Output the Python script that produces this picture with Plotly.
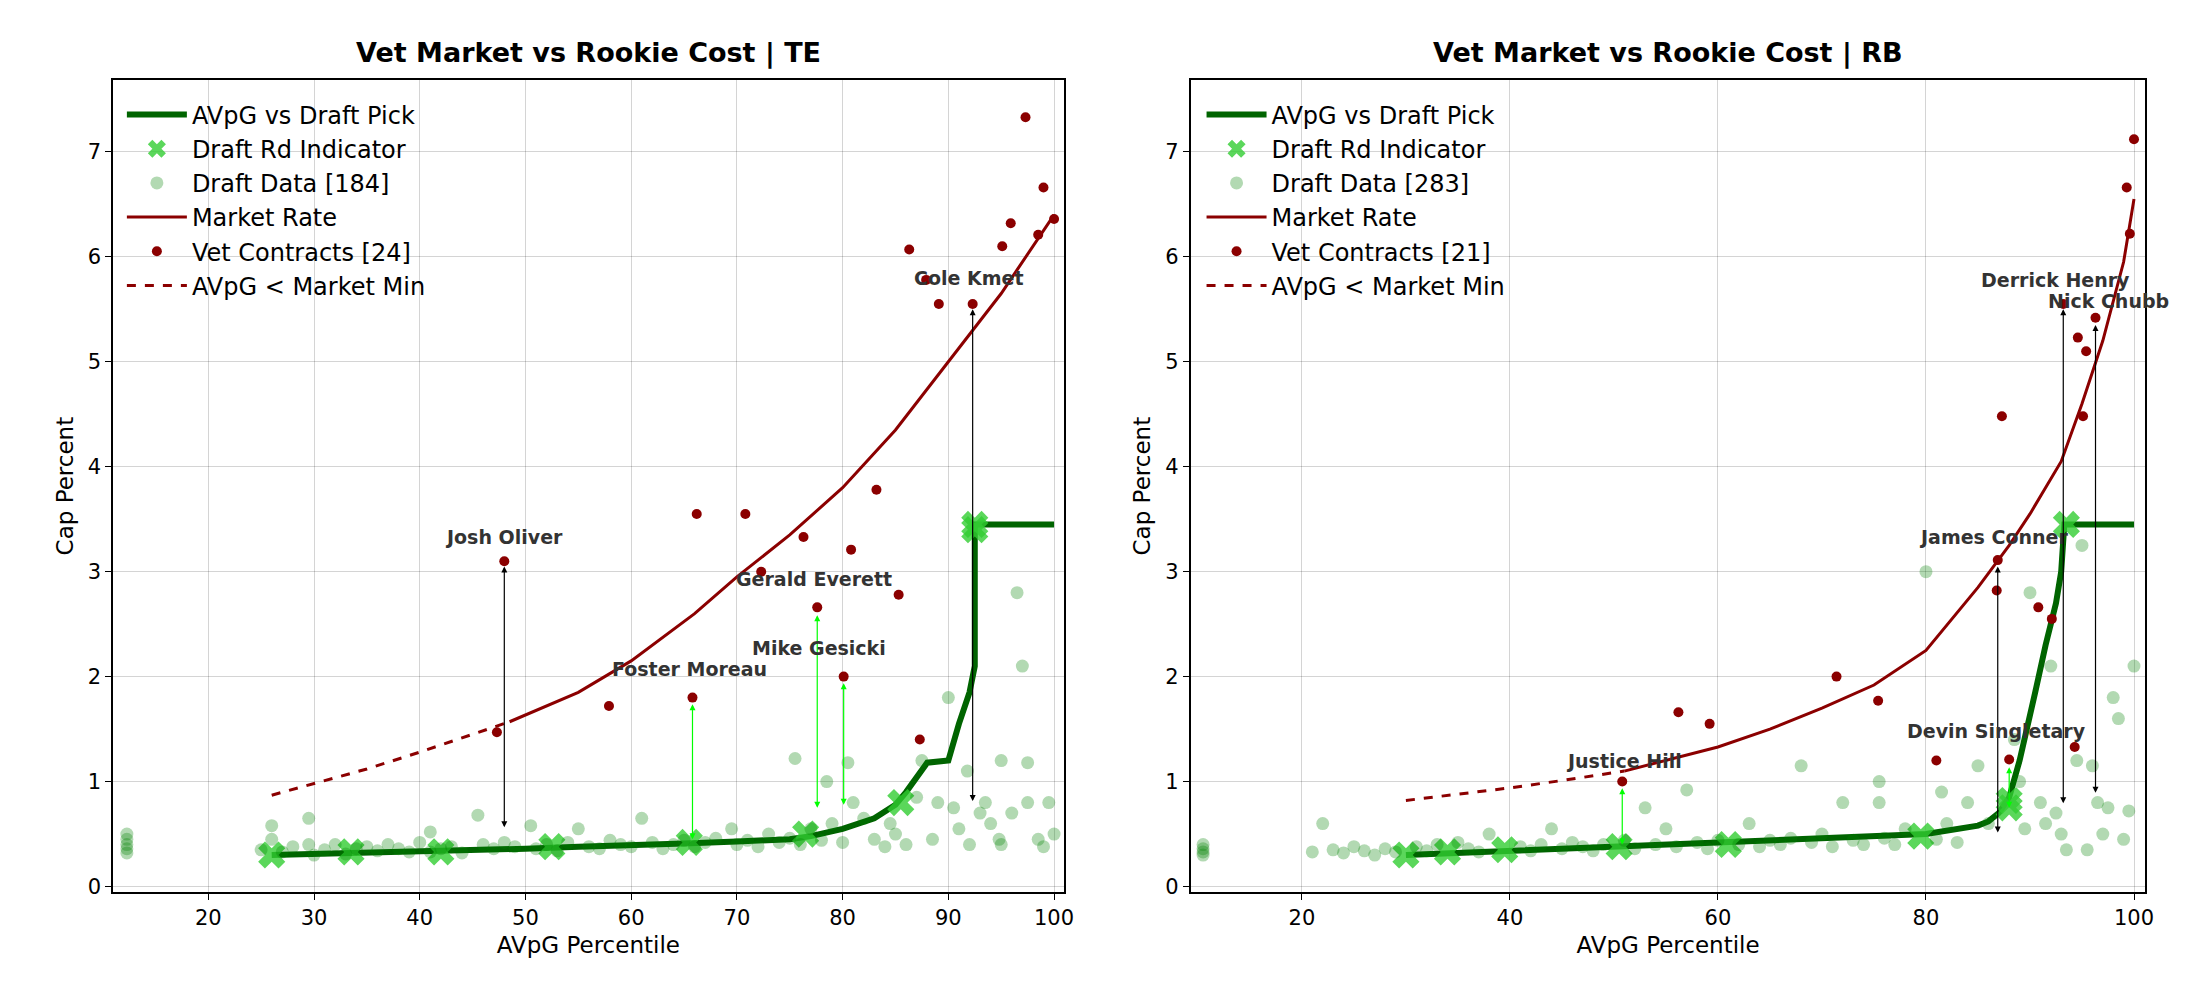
import plotly.graph_objects as go

# ---------------- TE data ----------------
te_curve_x = [26, 30, 35, 40, 45, 50, 55, 60, 65, 70, 75, 77, 80, 83, 85, 86, 87, 88, 90, 90.5, 91, 92, 92.5, 92.5, 95, 100]
te_curve_y = [0.30, 0.31, 0.32, 0.33, 0.34, 0.36, 0.38, 0.39, 0.41, 0.43, 0.45, 0.48, 0.55, 0.65, 0.78, 0.90, 1.05, 1.18, 1.20, 1.40, 1.55, 1.85, 2.10, 3.45, 3.45, 3.45]
te_rd_x = [26, 33.5, 42, 52.5, 65.5, 76.5, 85.5, 92.5, 92.5]
te_rd_y = [0.30, 0.33, 0.33, 0.38, 0.42, 0.50, 0.80, 3.40, 3.45]
te_draft_x = [12.3, 12.3, 12.3, 12.3, 12.3, 25, 26, 27, 28, 29.5, 30, 31, 32, 33, 34, 35, 36, 37, 38, 39, 40, 41, 42, 43, 44, 45.5, 46, 47, 48, 49, 50.5, 51, 52, 53, 54, 55, 56, 57, 58, 59, 60, 61, 62, 63, 64, 65, 66, 67, 68, 69.5, 70, 71, 72, 73, 74, 75, 75.5, 76, 77, 78, 78.5, 79, 80, 80.5, 81, 82, 83, 84, 84.5, 85, 86, 87, 87.5, 88.5, 89, 90, 90.5, 91, 91.8, 92, 93, 93.5, 94, 94.8, 95, 95, 96, 96.5, 97, 97.5, 97.5, 98.5, 99, 99.5, 100, 26, 29.5, 41]
te_draft_y = [0.32, 0.36, 0.40, 0.45, 0.50, 0.35, 0.58, 0.33, 0.38, 0.65, 0.30, 0.35, 0.40, 0.31, 0.36, 0.38, 0.34, 0.40, 0.36, 0.33, 0.42, 0.52, 0.36, 0.38, 0.32, 0.68, 0.40, 0.36, 0.42, 0.38, 0.58, 0.36, 0.40, 0.34, 0.42, 0.55, 0.38, 0.36, 0.44, 0.40, 0.38, 0.65, 0.42, 0.36, 0.40, 0.44, 0.38, 0.42, 0.46, 0.55, 0.40, 0.44, 0.38, 0.50, 0.42, 0.46, 1.22, 0.40, 0.55, 0.44, 1.00, 0.60, 0.42, 1.18, 0.80, 0.65, 0.45, 0.38, 0.60, 0.50, 0.40, 0.85, 1.20, 0.45, 0.80, 1.80, 0.75, 0.55, 1.10, 0.40, 0.70, 0.80, 0.60, 0.45, 1.20, 0.40, 0.70, 2.80, 2.10, 1.18, 0.80, 0.45, 0.38, 0.80, 0.50, 0.45, 0.40, 0.33]
te_mkt_dash_x = [26, 30, 35, 40, 45, 48.5]
te_mkt_dash_y = [0.87, 0.98, 1.12, 1.28, 1.45, 1.57]
te_mkt_x = [48.5, 55, 60, 66, 70, 75, 80, 85, 90, 95, 100]
te_mkt_y = [1.57, 1.85, 2.15, 2.60, 2.95, 3.35, 3.80, 4.35, 5.00, 5.65, 6.40]
te_vet_x = [47.3, 48, 57.9, 65.8, 66.2, 70.8, 72.3, 76.3, 77.6, 80.1, 80.8, 83.2, 85.3, 86.3, 87.3, 87.9, 89.1, 92.3, 95.1, 95.9, 97.3, 98.5, 99, 100]
te_vet_y = [1.47, 3.10, 1.72, 1.80, 3.55, 3.55, 3.00, 3.33, 2.66, 2.00, 3.21, 3.78, 2.78, 6.07, 1.40, 5.78, 5.55, 5.55, 6.10, 6.32, 7.33, 6.21, 6.66, 6.36]
te_names = ["Josh Oliver", "Foster Moreau", "Gerald Everett", "Mike Gesicki", "Cole Kmet"]
te_arrow_x = [48, 65.8, 77.6, 80.1, 92.3]
te_arrow_from = [0.55, 0.45, 0.75, 0.78, 0.80]
te_arrow_to = [3.05, 1.75, 2.60, 1.95, 5.50]
te_label_x = [48, 65.5, 77.3, 77.8, 92]
te_label_y = [3.33, 2.07, 2.93, 2.27, 5.80]
te_arrow_good = [False, True, True, True, False]

# ---------------- RB data ----------------
rb_curve_x = [30, 35, 40, 50, 55, 60, 70, 80, 85, 86, 87, 88, 89, 90, 90.5, 91.5, 92.5, 93, 93.3, 95, 100]
rb_curve_y = [0.30, 0.32, 0.34, 0.37, 0.39, 0.41, 0.45, 0.50, 0.58, 0.62, 0.70, 0.85, 1.20, 1.60, 1.85, 2.30, 2.70, 3.00, 3.45, 3.45, 3.45]
rb_rd_x = [30, 34, 39.5, 50.5, 61, 79.5, 88, 88, 93.5]
rb_rd_y = [0.30, 0.33, 0.35, 0.38, 0.40, 0.48, 0.75, 0.82, 3.45]
rb_draft_x = [10.5, 10.5, 10.5, 10.5, 21, 22, 23, 24, 25, 26, 27, 28, 29, 31, 32, 33, 35, 36, 37, 38, 41, 42, 43, 44, 45, 46, 47, 48, 49, 51, 52, 53, 54, 55, 56, 57, 58, 59, 60, 62, 63, 64, 65, 66, 67, 68, 69, 70, 71, 72, 73, 74, 75.5, 75.5, 76, 77, 78, 80, 81, 81.5, 82, 83, 84, 85, 86, 88.5, 89, 89.5, 90, 91, 91.5, 92, 92.5, 93, 93.5, 94.5, 95, 95.5, 96, 96.5, 97, 97.5, 98, 98.5, 99, 99.5, 100]
rb_draft_y = [0.30, 0.33, 0.36, 0.40, 0.33, 0.60, 0.35, 0.32, 0.38, 0.34, 0.30, 0.36, 0.33, 0.38, 0.34, 0.40, 0.42, 0.36, 0.33, 0.50, 0.38, 0.34, 0.40, 0.55, 0.36, 0.42, 0.38, 0.34, 0.40, 0.44, 0.36, 0.75, 0.40, 0.55, 0.38, 0.92, 0.42, 0.36, 0.44, 0.40, 0.60, 0.38, 0.44, 0.40, 0.46, 1.15, 0.42, 0.50, 0.38, 0.80, 0.44, 0.40, 1.00, 0.80, 0.46, 0.40, 0.55, 3.00, 0.45, 0.90, 0.60, 0.42, 0.80, 1.15, 0.60, 1.40, 1.00, 0.55, 2.80, 0.80, 0.60, 2.10, 0.70, 0.50, 0.35, 1.20, 3.25, 0.35, 1.15, 0.80, 0.50, 0.75, 1.80, 1.60, 0.45, 0.72, 2.10]
rb_mkt_dash_x = [30, 35, 40, 45, 51]
rb_mkt_dash_y = [0.82, 0.88, 0.94, 1.01, 1.10]
rb_mkt_x = [51, 55, 60, 65, 70, 75, 80, 85, 88, 90, 93, 95, 97, 99, 100]
rb_mkt_y = [1.10, 1.20, 1.33, 1.50, 1.70, 1.92, 2.25, 2.85, 3.25, 3.55, 4.05, 4.60, 5.20, 5.95, 6.55]
rb_vet_x = [50.8, 56.2, 59.2, 71.4, 75.4, 81, 86.8, 86.9, 87.3, 88, 90.8, 92.1, 93.2, 94.3, 94.6, 95.1, 95.4, 96.3, 99.3, 99.6, 100]
rb_vet_y = [1.00, 1.66, 1.55, 2.00, 1.77, 1.20, 2.82, 3.11, 4.48, 1.21, 2.66, 2.55, 5.55, 1.33, 5.23, 4.48, 5.10, 5.42, 6.66, 6.22, 7.12]
rb_names = ["Justice Hill", "James Conner", "Derrick Henry", "Nick Chubb", "Devin Singletary"]
rb_arrow_x = [50.8, 86.9, 93.2, 96.3, 88]
rb_arrow_from = [0.40, 0.50, 0.78, 0.88, 0.75]
rb_arrow_to = [0.95, 3.05, 5.50, 5.35, 1.15]
rb_label_x = [51, 86.5, 92.5, 97.5, 86.8]
rb_label_y = [1.20, 3.33, 5.78, 5.58, 1.48]
rb_arrow_good = [True, False, False, False, True]

FONT = "DejaVu Sans"
DG = "#006400"
DR = "#8b0000"

fig = go.Figure()
annos = []

def panel(xa, ya, leg, cx, cy, rx, ry, dx, dy, mdx, mdy, mx, my, vx, vy, ndraft, nvet,
          names, ax_, afrom, ato, lx, ly, good):
    common = dict(xaxis=xa, yaxis=ya, legend=leg)
    fig.add_trace(go.Scatter(x=cx, y=cy, mode="lines", line=dict(color=DG, width=6),
                             name="AVpG vs Draft Pick", **common))
    fig.add_trace(go.Scatter(x=rx, y=ry, mode="markers", name="Draft Rd Indicator",
                             marker=dict(symbol="x", size=24, color="rgba(50,205,50,0.8)"), **common))
    fig.add_trace(go.Scatter(x=dx, y=dy, mode="markers", name=f"Draft Data [{ndraft}]",
                             marker=dict(size=13, color="rgba(0,128,0,0.3)"), **common))
    fig.add_trace(go.Scatter(x=mx, y=my, mode="lines", name="Market Rate",
                             line=dict(color=DR, width=3), **common))
    fig.add_trace(go.Scatter(x=vx, y=vy, mode="markers", name=f"Vet Contracts [{nvet}]",
                             marker=dict(size=10, color=DR), **common))
    fig.add_trace(go.Scatter(x=mdx, y=mdy, mode="lines", name="AVpG < Market Min",
                             line=dict(color=DR, width=3, dash="dash"), **common))
    xr = "x" if xa == "x" else "x2"
    yr = "y" if ya == "y" else "y2"
    for n, x0, f, t, tx, ty, g in zip(names, ax_, afrom, ato, lx, ly, good):
        col = "#00ff00" if g else "black"
        if g:
            head, tail = f, t
        else:
            head, tail = t, f
        annos.append(dict(x=x0, y=head, ax=x0, ay=tail, xref=xr, yref=yr, axref=xr, ayref=yr,
                          showarrow=True, arrowhead=2, arrowside="end+start", arrowsize=1,
                          arrowwidth=1.2, arrowcolor=col, text=""))
        annos.append(dict(x=tx, y=ty, xref=xr, yref=yr, text=f"<b>{n}</b>", showarrow=False,
                          font=dict(family=FONT, size=19, color="#333333")))

panel("x", "y", "legend", te_curve_x, te_curve_y, te_rd_x, te_rd_y, te_draft_x, te_draft_y,
      te_mkt_dash_x, te_mkt_dash_y, te_mkt_x, te_mkt_y, te_vet_x, te_vet_y, 184, 24,
      te_names, te_arrow_x, te_arrow_from, te_arrow_to, te_label_x, te_label_y, te_arrow_good)
panel("x2", "y2", "legend2", rb_curve_x, rb_curve_y, rb_rd_x, rb_rd_y, rb_draft_x, rb_draft_y,
      rb_mkt_dash_x, rb_mkt_dash_y, rb_mkt_x, rb_mkt_y, rb_vet_x, rb_vet_y, 283, 21,
      rb_names, rb_arrow_x, rb_arrow_from, rb_arrow_to, rb_label_x, rb_label_y, rb_arrow_good)

annos.append(dict(x=0.265, y=0.955, xref="paper", yref="paper", showarrow=False, xanchor="center", yanchor="middle",
                  text="<b>Vet Market vs Rookie Cost | TE</b>", font=dict(family=FONT, size=27, color="black")))
annos.append(dict(x=0.758, y=0.955, xref="paper", yref="paper", showarrow=False, xanchor="center", yanchor="middle",
                  text="<b>Vet Market vs Rookie Cost | RB</b>", font=dict(family=FONT, size=27, color="black")))

ax_common = dict(showline=True, linecolor="black", linewidth=1.5, mirror=True, ticks="outside",
                 ticklen=6, tickcolor="black", showgrid=True, gridcolor="rgba(0,0,0,0.17)",
                 zeroline=False, tickfont=dict(family=FONT, size=21, color="black"))
tfont = dict(family=FONT, size=23, color="black")
leg_common = dict(bgcolor="rgba(0,0,0,0)", font=dict(family=FONT, size=24, color="black"),
                  xanchor="left", yanchor="top", tracegroupgap=0, itemwidth=60)

fig.update_layout(
    width=2200, height=1000, paper_bgcolor="white", plot_bgcolor="white",
    margin=dict(l=0, r=0, t=0, b=0), showlegend=True,
    xaxis=dict(domain=[0.048, 0.482], range=[11.0, 100.9], tickvals=[20, 30, 40, 50, 60, 70, 80, 90, 100],
               title=dict(text="AVpG Percentile", font=tfont, standoff=8), anchor="y", **ax_common),
    yaxis=dict(domain=[0.11, 0.927], range=[-0.05, 7.68], tickvals=list(range(8)),
               title=dict(text="Cap Percent", font=tfont, standoff=8), anchor="x", **ax_common),
    xaxis2=dict(domain=[0.54, 0.976], range=[9.3, 101.1], tickvals=[20, 40, 60, 80, 100],
                title=dict(text="AVpG Percentile", font=tfont, standoff=8), anchor="y2", **ax_common),
    yaxis2=dict(domain=[0.11, 0.927], range=[-0.05, 7.68], tickvals=list(range(8)),
                title=dict(text="Cap Percent", font=tfont, standoff=8), anchor="x2", **ax_common),
    legend=dict(x=0.052, y=0.915, **leg_common),
    legend2=dict(x=0.545, y=0.915, **leg_common),
    annotations=annos,
)

fig.write_html("out.html")
